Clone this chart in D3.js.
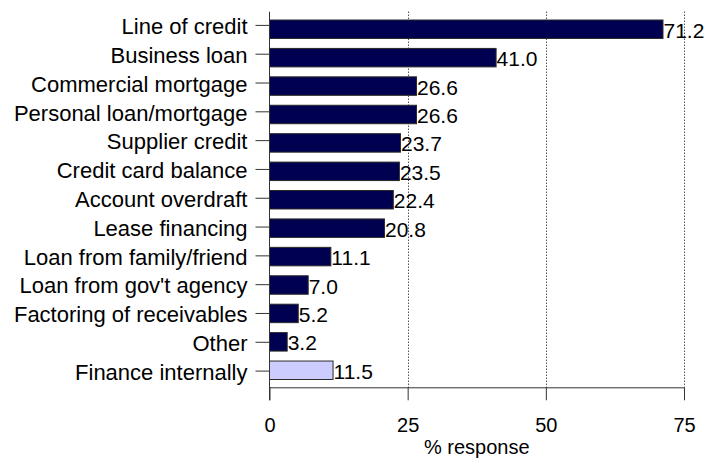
<!DOCTYPE html>
<html>
<head>
<meta charset="utf-8">
<script src="https://cdn.jsdelivr.net/npm/d3@7"></script>
<style>
  html, body { margin: 0; padding: 0; background: #fff; }
  svg { display: block; }
  text { font-family: "Liberation Sans", Arial, sans-serif; fill: #000; }
</style>
</head>
<body>
<svg id="chart" width="708" height="459"></svg>
<script>
// Sources of financing, % of respondents
const categories = [
  "Line of credit",
  "Business loan",
  "Commercial mortgage",
  "Personal loan/mortgage",
  "Supplier credit",
  "Credit card balance",
  "Account overdraft",
  "Lease financing",
  "Loan from family/friend",
  "Loan from gov't agency",
  "Factoring of receivables",
  "Other",
  "Finance internally"
];
const values = [71.2, 41.0, 26.6, 26.6, 23.7, 23.5, 22.4, 20.8, 11.1, 7.0, 5.2, 3.2, 11.5];
const highlighted = ["Finance internally"];
const xTicks = [0, 25, 50, 75];
const axisTitle = "% response";

const svg = d3.select("#chart");

const plot = { left: 269.5, right: 684, top: 11.7, bottom: 387.3 };

const x = d3.scaleLinear().domain([0, 75]).range([plot.left, plot.right]);

// category positions (ticks and labels)
const yAxis = d3.scaleBand().domain(categories).range([11, 385.5]).padding(0);
// bar placement
const yBar = d3.scaleBand().domain(categories).range([10.05, 389.45]).padding(0.35);

// dotted vertical gridlines
svg.append("g")
  .selectAll("line")
  .data(xTicks.filter(d => d > 0))
  .join("line")
  .attr("x1", d => Math.round(x(d)) + 0.5)
  .attr("x2", d => Math.round(x(d)) + 0.5)
  .attr("y1", plot.top)
  .attr("y2", plot.bottom)
  .attr("stroke", "#000")
  .attr("stroke-width", 1)
  .attr("stroke-dasharray", "1,2");

// bars
svg.append("g")
  .selectAll("rect")
  .data(categories.map((c, i) => ({ c, v: values[i] })))
  .join("rect")
  .attr("x", x(0))
  .attr("y", d => yBar(d.c))
  .attr("width", d => x(d.v) - x(0))
  .attr("height", yBar.bandwidth())
  .attr("fill", d => highlighted.includes(d.c) ? "#ccccff" : "#000050")
  .attr("stroke", "#2a2a2a")
  .attr("stroke-width", 1);

// value labels
svg.append("g")
  .selectAll("text")
  .data(categories.map((c, i) => ({ c, v: values[i] })))
  .join("text")
  .attr("x", d => x(d.v) + 0.5)
  .attr("y", d => yBar(d.c) + yBar.bandwidth() / 2 + 8.5)
  .attr("font-size", 21)
  .text(d => d.v.toFixed(1));

// bottom axis
const xAxisG = svg.append("g")
  .attr("transform", `translate(0,${plot.bottom})`)
  .call(d3.axisBottom(x).tickValues(xTicks).tickSize(13).tickPadding(18).tickSizeOuter(0));
xAxisG.select(".domain").attr("stroke", "#333");
xAxisG.selectAll(".tick line").attr("stroke", "#333");
xAxisG.selectAll(".tick text")
  .attr("font-size", 20)
  .attr("font-family", "Liberation Sans, Arial, sans-serif")
  .attr("fill", "#000");

// left axis
const yAxisG = svg.append("g")
  .attr("transform", `translate(${plot.left},0)`)
  .call(d3.axisLeft(yAxis).tickSize(14).tickPadding(8).tickSizeOuter(0));
yAxisG.select(".domain").remove();
yAxisG.append("line")
  .attr("x1", 0).attr("x2", 0)
  .attr("y1", plot.top).attr("y2", plot.bottom + 13)
  .attr("stroke", "#333");
yAxisG.selectAll(".tick line").attr("stroke", "#333");
yAxisG.selectAll(".tick text")
  .attr("font-size", 22)
  .attr("font-family", "Liberation Sans, Arial, sans-serif")
  .attr("fill", "#000")
  .attr("dy", "0.4em");

// axis title
svg.append("text")
  .attr("x", (plot.left + plot.right) / 2)
  .attr("y", 454)
  .attr("text-anchor", "middle")
  .attr("font-size", 20)
  .text(axisTitle);
</script>
</body>
</html>
